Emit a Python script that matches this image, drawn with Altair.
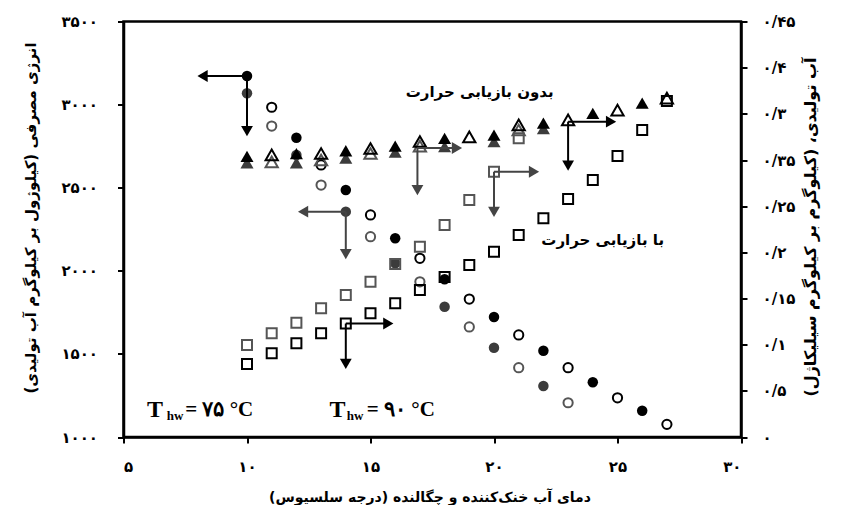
import altair as alt
import pandas as pd

# ---------------- data ----------------
# energy consumption (left axis), circles
circ_black_x = [10, 12, 14, 16, 18, 20, 22, 24, 26]
circ_black_y = [3172, 2801, 2486, 2196, 1949, 1722, 1519, 1329, 1158]
circ_dark_x = [10, 12, 14, 16, 18, 20, 22]
circ_dark_y = [3068, 2697, 2356, 2045, 1784, 1537, 1307]
circ_open_x = [11, 13, 15, 17, 19, 21, 23, 25, 27]
circ_open_y = [2984, 2637, 2336, 2075, 1830, 1614, 1417, 1236, 1076]
circ_gray_x = [11, 13, 15, 17, 19, 21, 23]
circ_gray_y = [2871, 2516, 2205, 1934, 1662, 1417, 1206]

# water production (right axis), triangles: without heat recovery
tri_black_x = [10, 12, 14, 16, 18, 20, 22, 24, 26]
tri_black_y = [0.304, 0.307, 0.310, 0.315, 0.3235, 0.327, 0.340, 0.3505, 0.3615]
tri_dark_x = [10, 12, 14, 16, 18, 20, 22]
tri_dark_y = [0.297, 0.297, 0.302, 0.3085, 0.3145, 0.320, 0.334]
tri_open_x = [11, 13, 15, 17, 19, 21, 23, 25, 27]
tri_open_y = [0.3055, 0.307, 0.3125, 0.320, 0.325, 0.338, 0.3435, 0.354, 0.367]
tri_gray_x = [11, 13, 15, 17, 21]
tri_gray_y = [0.298, 0.300, 0.307, 0.315, 0.3325]

# water production (right axis), squares: with heat recovery
sq_gray_x = [10, 11, 12, 13, 14, 15, 16, 17, 18, 19, 20, 21]
sq_gray_y = [0.0996, 0.1123, 0.1238, 0.1394, 0.1538, 0.1682, 0.1874, 0.2061,
             0.2296, 0.2567, 0.2873, 0.3235]
sq_black_x = [10, 11, 12, 13, 14, 15, 16, 17, 18, 19, 20, 21, 22, 23, 24, 25, 26, 27]
sq_black_y = [0.0791, 0.0906, 0.1015, 0.1123, 0.1229, 0.1340, 0.1448, 0.1592,
              0.1733, 0.1863, 0.2007, 0.2188, 0.2369, 0.2578, 0.2783, 0.3043,
              0.3325, 0.3639]

# arrows pointing to the left axis (start point, left head, down head)
arrL_x0 = [10, 14]
arrL_y0 = [3172, 2356]
arrL_xh = [8.2, 12.27]
arrL_yv = [2841, 2101]
arrL_c = ["#000000", "#444444"]

# arrows pointing to the right axis
arrR_x0 = [16.9, 20, 23, 14]
arrR_y0 = [0.313, 0.2873, 0.3415, 0.1229]
arrR_xh = [18.5, 21.62, 24.74, 15.72]
arrR_yv = [0.2675, 0.2437, 0.2938, 0.0791]
arrR_c = ["#444444", "#444444", "#000000", "#000000"]

# axis ticks and labels
x_ticks = [5, 10, 15, 20, 25, 30]
x_labels = ["۵", "۱۰", "۱۵", "۲۰", "۲۵", "۳۰"]
yl_ticks = [1000, 1500, 2000, 2500, 3000, 3500]
yl_labels = ["۱۰۰۰", "۱۵۰۰", "۲۰۰۰", "۲۵۰۰", "۳۰۰۰", "۳۵۰۰"]
yr_ticks = [0, 0.05, 0.10, 0.15, 0.20, 0.25, 0.30, 0.35, 0.40, 0.45]
yr_labels = ["۰", "۰/۵", "۰/۱", "۰/۱۵", "۰/۲", "۰/۲۵", "۰/۳۵", "۰/۳", "۰/۴", "۰/۴۵"]

RLM = "\u200f"
x_title = RLM + "دمای آب خنک‌کننده و چگالنده (درجه سلسیوس)" + RLM
yl_title = RLM + "انرژی مصرفی (کیلوژول بر کیلوگرم آب تولیدی)" + RLM
yr_title = RLM + "آب تولیدی، (کیلوگرم بر کیلوگرم سیلیکاژل)" + RLM

# text annotations (placed on the left-axis scale)
lab_text = [RLM + "بدون بازیابی حرارت" + RLM, RLM + "با بازیابی حرارت" + RLM]
lab_x = [19.42, 24.4]
lab_y = [3076, 2185]
t_x = [6.28, 13.66]
t_y = [1162, 1162]
hw_x = [7.09, 14.38]
hw_y = [1126, 1126]
eq_text = ["= ۷۵ °C", "= ۹۰ °C"]
eq_x = [7.5, 14.85]
eq_y = [1162, 1162]


def label_expr(vals, labs):
    expr = "''"
    for v, l in reversed(list(zip(vals, labs))):
        expr = f"abs(datum.value - {v}) < 1e-6 ? '{l}' : " + expr
    return expr


FONT = "DejaVu Sans"
xscale = alt.Scale(domain=[5, 30], nice=False, zero=False)
yl_scale = alt.Scale(domain=[1000, 3500], nice=False, zero=False)
yr_scale = alt.Scale(domain=[0, 0.45], nice=False, zero=False)

x_axis = alt.Axis(values=x_ticks, labelExpr=label_expr(x_ticks, x_labels),
                  title=x_title, titleX=306, titleY=60, titleAlign="center",
                  titleBaseline="middle", labelPadding=16, titleFontSize=14)
yl_axis = alt.Axis(orient="left", values=yl_ticks,
                   labelExpr=label_expr(yl_ticks, yl_labels), title=yl_title,
                   titleAngle=270, titleX=-93, titleY=196, titleAlign="center",
                   titleBaseline="middle", labelPadding=20, titleFontSize=15)
yr_axis = alt.Axis(orient="right", values=yr_ticks,
                   labelExpr=label_expr(yr_ticks, yr_labels), title=yr_title,
                   titleAngle=270, titleX=69, titleY=205, titleAlign="center",
                   titleBaseline="middle", labelPadding=15, titleFontSize=16)


def X(f="x"):
    return alt.X(f + ":Q", scale=xscale, axis=x_axis)


def YL(f="y"):
    return alt.Y(f + ":Q", scale=yl_scale, axis=yl_axis)


def YR(f="y"):
    return alt.Y(f + ":Q", scale=yr_scale, axis=yr_axis)


def df(xs, ys):
    return pd.DataFrame({"x": xs, "y": ys})


def pts(xs, ys, Y, shape, filled, color, size, sw=2.0):
    if filled:
        m = alt.Chart(df(xs, ys)).mark_point(shape=shape, filled=True, size=size,
                                             color=color, opacity=1, strokeWidth=0)
    else:
        m = alt.Chart(df(xs, ys)).mark_point(shape=shape, filled=False, size=size,
                                             stroke=color, strokeWidth=sw, opacity=1)
    return m.encode(x=X(), y=Y())


def arrows(x0, y0, xh, yv, cols, Y, side):
    d = pd.DataFrame({"x0": x0, "y0": y0, "xh": xh, "yv": yv, "c": cols})
    base = alt.Chart(d)
    col = alt.Color("c:N", scale=None)
    h = base.mark_rule(strokeWidth=2).encode(x=X("x0"), x2="xh:Q", y=Y("y0"), color=col)
    v = base.mark_rule(strokeWidth=2).encode(x=X("x0"), y=Y("y0"), y2="yv:Q", color=col)
    hh = base.mark_point(shape="triangle-" + side, filled=True, size=140, opacity=1,
                         strokeWidth=0).encode(x=X("xh"), y=Y("y0"), color=col)
    vh = base.mark_point(shape="triangle-down", filled=True, size=140, opacity=1,
                         strokeWidth=0).encode(x=X("x0"), y=Y("yv"), color=col)
    return [h, v, hh, vh]


left_layers = [
    pts(circ_gray_x, circ_gray_y, YL, "circle", False, "#555555", 85),
    pts(circ_open_x, circ_open_y, YL, "circle", False, "#000000", 85),
    pts(circ_dark_x, circ_dark_y, YL, "circle", True, "#3c3c3c", 110),
    pts(circ_black_x, circ_black_y, YL, "circle", True, "#000000", 110),
] + arrows(arrL_x0, arrL_y0, arrL_xh, arrL_yv, arrL_c, YL, "left")

lab_df = pd.DataFrame({"x": lab_x, "y": lab_y, "t": lab_text})
t_df = pd.DataFrame({"x": t_x, "y": t_y, "t": ["T", "T"]})
hw_df = pd.DataFrame({"x": hw_x, "y": hw_y, "t": ["hw", "hw"]})
eq_df = pd.DataFrame({"x": eq_x, "y": eq_y, "t": eq_text})

texts = [
    alt.Chart(lab_df).mark_text(font=FONT, fontWeight="bold", fontSize=15,
                                color="black").encode(x=X(), y=YL(), text="t:N"),
    alt.Chart(t_df).mark_text(font="Liberation Serif", fontWeight="bold", fontSize=24,
                              color="black").encode(x=X(), y=YL(), text="t:N"),
    alt.Chart(hw_df).mark_text(font="Liberation Serif", fontWeight="bold", fontSize=13,
                               color="black").encode(x=X(), y=YL(), text="t:N"),
    alt.Chart(eq_df).mark_text(font="Liberation Serif", fontWeight="bold", fontSize=21,
                               align="left", color="black").encode(x=X(), y=YL(), text="t:N"),
]

right_layers = [
    pts(sq_gray_x, sq_gray_y, YR, "square", False, "#555555", 100),
    pts(sq_black_x, sq_black_y, YR, "square", False, "#000000", 100),
    pts(tri_dark_x, tri_dark_y, YR, "triangle-up", True, "#3c3c3c", 170),
    pts(tri_black_x, tri_black_y, YR, "triangle-up", True, "#000000", 170),
    pts(tri_gray_x, tri_gray_y, YR, "triangle-up", False, "#555555", 150),
    pts(tri_open_x, tri_open_y, YR, "triangle-up", False, "#000000", 150),
] + arrows(arrR_x0, arrR_y0, arrR_xh, arrR_yv, arrR_c, YR, "right")

left = alt.layer(*left_layers, *texts)
right = alt.layer(*right_layers)

chart = alt.layer(left, right).resolve_scale(y="independent").properties(
    width=617.5, height=415.5,
    autosize=alt.AutoSizeParams(type="none"),
    padding={"left": 115.5, "top": 13.5, "right": 90, "bottom": 68},
).configure_view(
    stroke="black", strokeWidth=2.5
).configure_axis(
    grid=False, domainColor="black", domainWidth=2.5, tickColor="black",
    tickWidth=2, tickSize=6, labelFont=FONT, labelFontWeight="bold",
    labelFontSize=15, labelColor="black", titleFont=FONT, titleFontSize=14,
    titleFontWeight="bold", titleColor="black",
)

chart.save("out.html", embed_options={"renderer": "svg", "actions": False})
